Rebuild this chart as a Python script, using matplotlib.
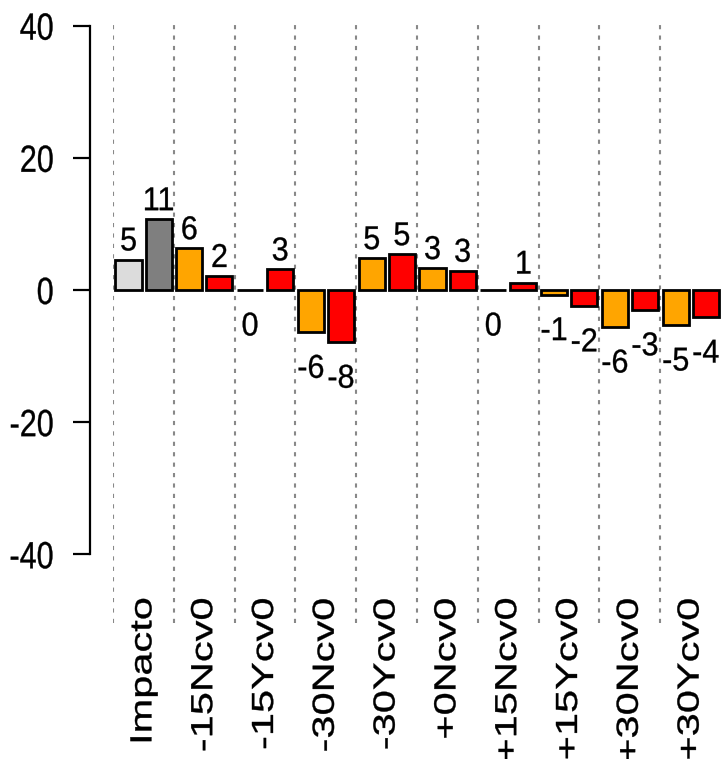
import numpy as np
import matplotlib
matplotlib.use('Agg')
import matplotlib.pyplot as plt
from matplotlib.patheffects import AbstractPathEffect
from matplotlib.transforms import Affine2D

# data
cats = ['Impacto', '-15Ncv0', '-15Ycv0', '-30Ncv0', '-30Ycv0',
        '+0Ncv0', '+15Ncv0', '+15Ycv0', '+30Ncv0', '+30Ycv0']
first = [4.6, 6.3, 0.0, -6.4, 4.8, 3.3, 0.0, -0.7, -5.6, -5.3]
second = [10.7, 2.1, 3.1, -7.9, 5.4, 2.9, 1.1, -2.4, -3.0, -4.1]
first_cols = ['#DCDCDC'] + ['#FFA500'] * 9
second_cols = ['#7F7F7F'] + ['#FF0000'] * 9
yticks = [-40, -20, 0, 20, 40]


# the source picture is a bit taller than wide, so stretch the glyphs
class Stretch(AbstractPathEffect):
    def __init__(self, sx=1.0, sy=1.0, fx=0.5, fy=0.5, stroke=0.25):
        super().__init__()
        self.sx, self.sy, self.fx, self.fy = sx, sy, fx, fy
        self.stroke = stroke

    def draw_path(self, renderer, gc, tpath, affine, rgbFace=None):
        ext = tpath.get_extents()
        cx = ext.x0 + self.fx * ext.width
        cy = ext.y0 + self.fy * ext.height
        t = Affine2D().translate(-cx, -cy).scale(self.sx, self.sy).translate(cx, cy) + affine
        gc0 = renderer.new_gc()
        gc0.copy_properties(gc)
        gc0.set_linewidth(self.stroke)
        gc0.set_foreground(rgbFace)
        renderer.draw_path(gc0, tpath, t, rgbFace)
        gc0.restore()


plt.rcParams['font.family'] = ['Liberation Sans', 'DejaVu Sans']

fig = plt.figure(figsize=(7.21, 7.59), dpi=100)
ax = fig.add_axes([113/721, (759-623)/759, 608/721, (623-20)/759])

x = np.arange(len(cats))
b1 = ax.bar(x + 0.255, first, width=0.43, color=first_cols,
            edgecolor='black', linewidth=2.0, zorder=3)
b2 = ax.bar(x + 0.75, second, width=0.43, color=second_cols,
            edgecolor='black', linewidth=2.0, zorder=3)

for xi in x:
    ax.axvline(xi, color='#888888', ls=(0, (2, 3)), lw=1.5, zorder=0)

ax.set_xlim(0, 10)
ax.set_ylim(-50.4, 40.85)

for s in ['top', 'right', 'bottom']:
    ax.spines[s].set_visible(False)
ax.spines['left'].set_position(('outward', 16.6))
ax.spines['left'].set_bounds(-40, 40)
ax.spines['left'].set_linewidth(1.6)
ax.set_yticks(yticks)
ax.set_yticklabels([str(t) for t in yticks], fontsize=22,
                   path_effects=[Stretch(1.0, 1.24, 1.0, 0.5)])
ax.tick_params(axis='y', length=12, width=1.6, pad=14)
ax.set_xticks([])

# value labels
for bars, vals in [(b1, first), (b2, second)]:
    for r, v in zip(bars, vals):
        xc = r.get_x() + r.get_width() / 2
        lab = str(int(np.floor(v + 0.5)))
        if v > 0:
            ax.annotate(lab, (xc, v), xytext=(0, 1.5), textcoords='offset points',
                        ha='center', va='bottom', fontsize=22,
                        path_effects=[Stretch(1.0, 1.08, 0.5, 0.0)])
        else:
            ax.annotate(lab, (xc, v), xytext=(0, -15), textcoords='offset points',
                        ha='center', va='top', fontsize=22,
                        path_effects=[Stretch(1.0, 1.08, 0.5, 1.0)])

# category labels
for xi, c in zip(x, cats):
    ax.text(xi + 0.5, -46.6, c, rotation=90, ha='center', va='top',
            fontsize=22, clip_on=False,
            path_effects=[Stretch(1.36, 1.0, 1.0, 0.5)])

fig.savefig('out.png', dpi=100)
